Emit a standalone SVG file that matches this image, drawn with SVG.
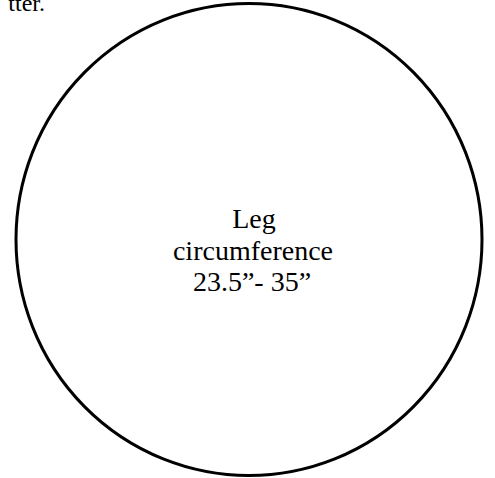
<svg xmlns="http://www.w3.org/2000/svg" width="495" height="478" viewBox="0 0 495 478">
<style>
.t{font-family:"Liberation Serif","Times New Roman",serif;fill:#000}
.top{font-size:24px}
.lbl{font-size:28px}
</style>
<rect width="495" height="478" fill="#fff"/>
<text class="t top" x="45" y="11" text-anchor="end">tter.</text>
<g id="leg-circle">
<ellipse cx="249" cy="239.5" rx="233" ry="236" fill="none" stroke="#000" stroke-width="3"/>
<text class="t lbl" text-anchor="middle"><tspan x="254" y="228">Leg</tspan><tspan x="253" y="260">circumference</tspan><tspan x="252" y="291">23.5”- 35”</tspan></text>
</g>
<g id="connectors"/>
</svg>
